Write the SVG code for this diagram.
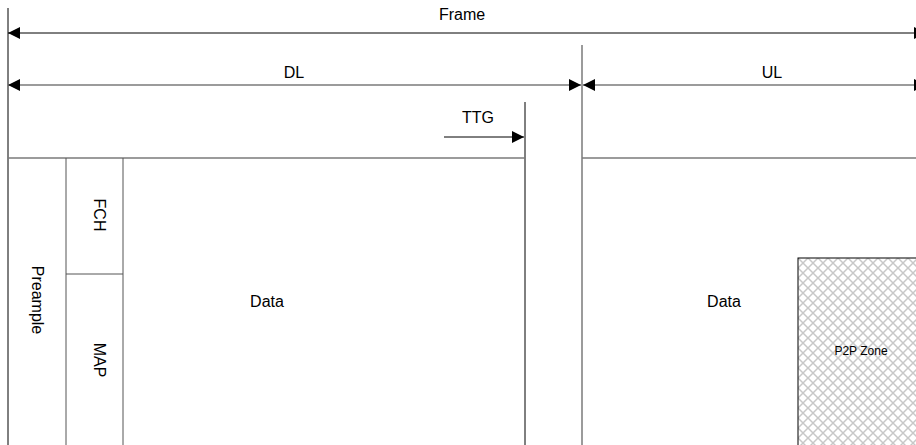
<svg xmlns="http://www.w3.org/2000/svg" width="916" height="445" viewBox="0 0 916 445">
<style>
text{font-family:"Liberation Sans",Arial,sans-serif;font-size:16px;fill:#000}
.blk{stroke:#000;stroke-width:1;fill:none}
.gry{stroke:#7a7a7a;stroke-width:1.5;fill:none}
.dk{stroke:#555;stroke-width:1;fill:none}
.mid{text-anchor:middle}
</style>
<defs>
<marker id="ah" viewBox="0 0 12 12" refX="12" refY="6" markerWidth="12" markerHeight="12" markerUnits="userSpaceOnUse" orient="auto-start-reverse">
<path d="M0,0 L12,6 L0,12 z" fill="#000"/>
</marker>
<pattern id="hatch" width="10" height="10" patternUnits="userSpaceOnUse" x="798" y="258">
<path d="M0,0 L10,10 M10,0 L0,10" stroke="#c8c8c8" stroke-width="1.5"/>
</pattern>
</defs>
<rect width="916" height="445" fill="#fff"/>
<g id="connectors">
<line class="blk" x1="8" y1="8" x2="8" y2="445"/>
<line class="blk" x1="8" y1="33" x2="926" y2="33" marker-start="url(#ah)" marker-end="url(#ah)"/>
<line class="gry" x1="8" y1="85" x2="581" y2="85" marker-start="url(#ah)" marker-end="url(#ah)"/>
<line class="gry" x1="583" y1="85" x2="926" y2="85" marker-start="url(#ah)" marker-end="url(#ah)"/>
<line class="gry" x1="582" y1="45" x2="582" y2="445"/>
<line class="blk" x1="525" y1="102" x2="525" y2="445"/>
<line class="blk" x1="444" y1="137" x2="524" y2="137" marker-end="url(#ah)"/>
</g>
<g id="dl-zone">
<line class="gry" x1="8" y1="158" x2="525" y2="158"/>
<line class="dk" x1="66" y1="158" x2="66" y2="445"/>
<line class="dk" x1="123" y1="158" x2="123" y2="445"/>
</g>
<g id="fch">
<line class="dk" x1="66" y1="274" x2="123" y2="274"/>
<text class="mid" transform="translate(94,215) rotate(90)" y="0">FCH</text>
</g>
<g id="map">
<text class="mid" transform="translate(94,360) rotate(90)" y="0">MAP</text>
</g>
<g id="preamble">
<text class="mid" transform="translate(32,300) rotate(90)" y="0">Preample</text>
</g>
<g id="dl-data">
<text class="mid" x="267" y="307">Data</text>
</g>
<g id="ul-zone">
<line class="gry" x1="582" y1="158" x2="916" y2="158"/>
<text class="mid" x="724" y="307">Data</text>
</g>
<g id="p2p">
<rect x="798" y="258" width="130" height="200" fill="url(#hatch)" stroke="#000" stroke-width="1"/>
<text class="mid" x="861" y="355" style="font-size:12px">P2P Zone</text>
</g>
<g id="labels">
<text class="mid" x="462" y="20">Frame</text>
<text class="mid" x="294" y="78">DL</text>
<text class="mid" x="772" y="78">UL</text>
<text class="mid" x="478" y="123">TTG</text>
</g>
</svg>
